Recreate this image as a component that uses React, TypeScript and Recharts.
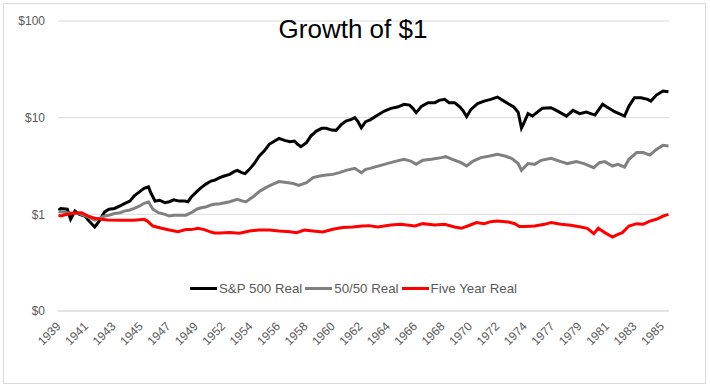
import { CartesianGrid, Legend, Line, LineChart, XAxis, YAxis } from "recharts";

// month index 0 = Jul 1939; values are real growth of $1
const sp500Real: [number, number][] = [
  [0, 1.1], [2, 1.15], [8, 1.13], [11, 0.89], [15, 1.08], [19, 1.0], [24, 0.96], [28, 0.85], [33, 0.74],
  [37, 0.85], [42, 1.06], [46, 1.13], [51, 1.15], [56, 1.22], [60, 1.29], [65, 1.37], [69, 1.55], [74, 1.72],
  [78, 1.86], [82, 1.92], [84, 1.68], [88, 1.37], [92, 1.4], [97, 1.32], [101, 1.35], [105, 1.41], [110, 1.37],
  [115, 1.37], [118, 1.35], [121, 1.51], [126, 1.72], [130, 1.89], [135, 2.08], [139, 2.21], [142, 2.25],
  [147, 2.4], [151, 2.49], [156, 2.59], [160, 2.76], [163, 2.85], [167, 2.7], [170, 2.64], [174, 2.92],
  [179, 3.42], [183, 4.01], [188, 4.59], [192, 5.3], [197, 5.73], [201, 6.11], [206, 5.82], [211, 5.65],
  [215, 5.73], [218, 5.3], [221, 5.01], [226, 5.51], [230, 6.45], [235, 7.27], [240, 7.75], [244, 7.75],
  [249, 7.44], [253, 7.39], [258, 8.53], [262, 9.22], [267, 9.6], [270, 10.0], [273, 9.09], [276, 7.88],
  [280, 9.09], [284, 9.5], [291, 10.64], [297, 11.7], [303, 12.49], [309, 12.87], [315, 13.73], [320, 13.5],
  [323, 12.49], [326, 11.27], [331, 13.18], [337, 14.29], [343, 14.29], [347, 15.1], [352, 15.46],
  [356, 14.29], [361, 14.29], [366, 12.87], [369, 11.7], [372, 10.24], [376, 12.19], [382, 13.96],
  [388, 14.85], [394, 15.46], [400, 16.33], [405, 15.1], [410, 13.96], [415, 12.9], [419, 11.4], [422, 7.8],
  [425, 9.22], [428, 11.0], [432, 10.39], [437, 11.53], [441, 12.49], [449, 12.69], [455, 11.7], [463, 10.39],
  [469, 11.9], [475, 11.0], [481, 11.43], [489, 10.64], [492, 11.9], [496, 13.73], [501, 12.69], [507, 11.53],
  [511, 11.0], [516, 10.39], [520, 13.18], [525, 16.1], [531, 16.1], [537, 15.46], [540, 14.85], [545, 17.13],
  [551, 18.84], [556, 18.57],
];

const fiftyFiftyReal: [number, number][] = [
  [0, 1.07], [8, 1.04], [19, 1.02], [28, 0.93], [33, 0.87], [37, 0.91], [42, 0.96], [46, 0.98], [51, 1.02],
  [56, 1.04], [60, 1.08], [65, 1.11], [69, 1.15], [74, 1.22], [78, 1.3], [82, 1.34], [86, 1.13], [91, 1.04],
  [97, 1.0], [101, 0.96], [105, 0.98], [110, 0.98], [116, 0.98], [121, 1.04], [126, 1.13], [130, 1.17],
  [135, 1.2], [139, 1.25], [142, 1.27], [147, 1.29], [156, 1.35], [163, 1.43], [168, 1.37], [171, 1.35],
  [177, 1.51], [183, 1.72], [189, 1.89], [195, 2.04], [201, 2.18], [208, 2.13], [214, 2.08], [219, 1.99],
  [226, 2.13], [232, 2.4], [238, 2.49], [244, 2.55], [250, 2.59], [256, 2.7], [262, 2.85], [270, 2.99],
  [276, 2.7], [280, 2.92], [284, 2.99], [288, 3.08], [297, 3.29], [306, 3.51], [315, 3.71], [321, 3.56],
  [326, 3.29], [332, 3.62], [340, 3.71], [349, 3.86], [353, 3.95], [359, 3.71], [367, 3.42], [372, 3.16],
  [378, 3.56], [385, 3.86], [393, 4.01], [400, 4.17], [407, 4.01], [413, 3.79], [419, 3.35], [422, 2.85],
  [428, 3.35], [434, 3.29], [440, 3.62], [449, 3.79], [458, 3.51], [464, 3.35], [472, 3.51], [479, 3.35],
  [488, 3.04], [493, 3.42], [498, 3.51], [505, 3.16], [510, 3.29], [516, 3.08], [520, 3.71], [527, 4.35],
  [533, 4.35], [539, 4.1], [545, 4.7], [551, 5.17], [556, 5.09],
];

const fiveYearReal: [number, number][] = [
  [0, 0.98], [2, 0.96], [8, 1.0], [15, 1.03], [21, 1.04], [27, 0.96], [33, 0.91], [39, 0.89], [45, 0.873],
  [57, 0.867], [69, 0.867], [78, 0.888], [81, 0.852], [86, 0.757], [94, 0.717], [101, 0.688], [109, 0.662],
  [116, 0.695], [121, 0.695], [127, 0.717], [133, 0.695], [139, 0.656], [142, 0.641], [147, 0.641],
  [156, 0.647], [165, 0.636], [174, 0.672], [183, 0.688], [192, 0.688], [201, 0.672], [211, 0.662],
  [217, 0.647], [224, 0.688], [232, 0.672], [241, 0.656], [250, 0.7], [259, 0.729], [268, 0.739],
  [277, 0.757], [283, 0.764], [291, 0.739], [303, 0.775], [312, 0.788], [325, 0.757], [332, 0.801],
  [343, 0.775], [352, 0.788], [361, 0.739], [367, 0.717], [373, 0.757], [381, 0.821], [388, 0.801],
  [394, 0.84], [400, 0.852], [410, 0.833], [416, 0.8], [420, 0.75], [425, 0.75], [434, 0.757], [443, 0.788],
  [449, 0.821], [458, 0.788], [467, 0.77], [476, 0.739], [482, 0.717], [488, 0.631], [492, 0.717],
  [498, 0.647], [505, 0.582], [510, 0.621], [514, 0.647], [520, 0.757], [527, 0.801], [533, 0.788],
  [539, 0.852], [545, 0.888], [551, 0.96], [556, 1.0],
];

// category labels every 25 months, as in the original
const tickMonths = [0, 25, 50, 75, 100, 125, 150, 175, 200, 225, 250, 275, 300, 325, 350, 375, 400, 425, 450, 475, 500, 525, 550];
const tickYears = [
  "1939", "1941", "1943", "1945", "1947", "1949", "1952", "1954", "1956", "1958", "1960", "1962",
  "1964", "1966", "1968", "1970", "1972", "1974", "1977", "1979", "1981", "1983", "1985",
];
const yTicks = [0.1, 1, 10, 100];
const yTickLabels = ["$0", "$1", "$10", "$100"];

const seriesInfo = [
  { key: "sp", name: "S&P 500 Real", color: "#000000", data: sp500Real },
  { key: "bal", name: "50/50 Real", color: "#808080", data: fiftyFiftyReal },
  { key: "fy", name: "Five Year Real", color: "#ff0000", data: fiveYearReal },
];

const FONT = '"Liberation Sans", Arial, sans-serif';

function XTick(props: any) {
  const { x, y, payload } = props;
  const label = tickYears[tickMonths.indexOf(payload.value)];
  const tx = x + 3;
  const ty = y + 8;
  return (
    <text x={tx} y={ty} transform={`rotate(-45 ${tx} ${ty})`} textAnchor="end" fill="#595959" fontSize={12} fontFamily={FONT}>
      {label}
    </text>
  );
}

function LegendContent() {
  return (
    <div style={{ display: "flex", justifyContent: "center", alignItems: "center", fontFamily: FONT, fontSize: 13.3, color: "#595959" }}>
      {seriesInfo.map((s) => (
        <div key={s.key} style={{ display: "flex", alignItems: "center", marginRight: 3 }}>
          <span style={{ display: "inline-block", width: 27, height: 3, background: s.color, marginRight: 2 }} />
          <span>{s.name}</span>
        </div>
      ))}
    </div>
  );
}

export default function App() {
  return (
    <div style={{ position: "absolute", left: 0, top: 0, width: 710, height: 387, background: "#fff" }}>
      <div
        style={{
          position: "absolute",
          left: 3,
          top: 3,
          width: 701,
          height: 379,
          border: "1px solid #d9d9d9",
          pointerEvents: "none",
        }}
      />
      <LineChart width={710} height={387} margin={{ top: 21, right: 41, bottom: 0, left: 0 }}>
        <CartesianGrid vertical={false} stroke="#d9d9d9" />
        <XAxis
          type="number"
          dataKey="m"
          domain={[-0.5, 556.5]}
          ticks={tickMonths}
          interval={0}
          height={76}
          tickLine={false}
          axisLine={{ stroke: "#d9d9d9" }}
          tick={<XTick />}
          allowDataOverflow
        />
        <YAxis
          type="number"
          scale="log"
          domain={[0.1, 100]}
          ticks={yTicks}
          allowDataOverflow
          width={58}
          tickLine={false}
          axisLine={false}
          tickMargin={7}
          tickFormatter={(v: number) => yTickLabels[yTicks.indexOf(v)]}
          tick={{ fill: "#595959", fontSize: 12, fontFamily: FONT }}
        />
        <Legend
          verticalAlign="middle"
          align="center"
          layout="horizontal"
          content={<LegendContent />}
          wrapperStyle={{ top: 281, left: 0, width: 710, bottom: "auto" }}
        />
        {seriesInfo.map((s) => (
          <Line
            key={s.key}
            data={s.data.map(([m, v]) => ({ m, v }))}
            dataKey="v"
            name={s.name}
            type="linear"
            stroke={s.color}
            strokeWidth={3}
            dot={false}
            isAnimationActive={false}
          />
        ))}
      </LineChart>
      <div
        style={{
          position: "absolute",
          left: 0,
          top: 16,
          width: 706,
          textAlign: "center",
          fontFamily: FONT,
          fontSize: 26,
          lineHeight: "26px",
          color: "#000",
        }}
      >
        Growth of $1
      </div>
    </div>
  );
}
